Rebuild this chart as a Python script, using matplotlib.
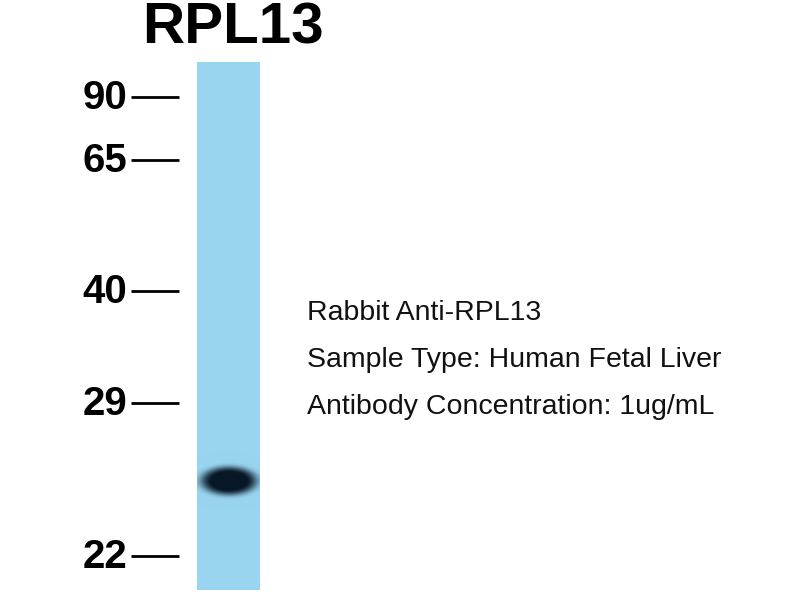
import numpy as np
import matplotlib
matplotlib.use("Agg")
import matplotlib.pyplot as plt

# Data
title = "RPL13"
marker_labels = ["90", "65", "40", "29", "22"]
marker_pos = [97, 160, 291, 403, 556]          # migration position (px from top)
band_pos = 481                                   # band migration position
band_halfwidth = 28
band_halfheight = 14
info_lines = ["Rabbit Anti-RPL13",
              "Sample Type: Human Fetal Liver",
              "Antibody Concentration: 1ug/mL"]

plt.rcParams['font.family'] = ['Liberation Sans', 'DejaVu Sans']

fig = plt.figure(figsize=(8, 6), dpi=100)
ax = fig.add_axes([0, 0, 1, 1])
ax.set_xlim(0, 800)
ax.set_ylim(600, 0)
ax.axis('off')

lane_x0, lane_x1 = 197, 260
lane_y0, lane_y1 = 62, 590

# lane image with band
nx, ny = 126, 1056
xs = np.linspace(lane_x0, lane_x1, nx)
ys = np.linspace(lane_y0, lane_y1, ny)
X, Y = np.meshgrid(xs, ys)
xc = (lane_x0 + lane_x1) / 2 + 0.5
r = ((X - xc) / band_halfwidth) ** 2 + ((Y - band_pos) / band_halfheight) ** 2
dark = np.clip(1.15 * np.exp(-(r ** 2.5)), 0, 1)
bg = np.array([153, 213, 241]) / 255.0
core = np.array([8, 24, 38]) / 255.0
img = bg[None, None, :] * (1 - dark[..., None]) + core[None, None, :] * dark[..., None]
ax.imshow(img, extent=[lane_x0, lane_x1, lane_y1, lane_y0], aspect='auto',
          interpolation='bilinear', zorder=1)

# markers
for lab, y in zip(marker_labels, marker_pos):
    ax.plot([131, 179], [y, y], color='black', lw=2.0, solid_capstyle='butt')
    ax.text(127, y + 1, lab, ha='right', va='center', fontsize=29,
            fontweight='bold', color='black')

ax.text(233, 29, title, ha='center', va='center', fontsize=42,
        fontweight='bold', color='black')

for i, line in enumerate(info_lines):
    ax.text(307, 313 + 47 * i, line, ha='left', va='center', fontsize=20.5,
            color='#111111')

fig.savefig("out.png", dpi=100)
